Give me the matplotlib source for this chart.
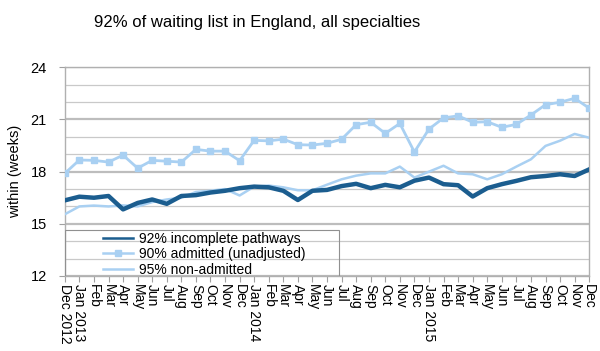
import matplotlib
matplotlib.use('Agg')
import matplotlib.pyplot as plt
from matplotlib.ticker import MultipleLocator
from matplotlib.patches import Rectangle

plt.rcParams['font.family'] = ['Liberation Sans', 'DejaVu Sans']

# month labels, Dec 2012 .. Dec 2015
months = ['Dec 2012', 'Jan 2013', 'Feb', 'Mar', 'Apr', 'May', 'Jun', 'Jul', 'Aug', 'Sep', 'Oct', 'Nov',
          'Dec', 'Jan 2014', 'Feb', 'Mar', 'Apr', 'May', 'Jun', 'Jul', 'Aug', 'Sep', 'Oct', 'Nov',
          'Dec', 'Jan 2015', 'Feb', 'Mar', 'Apr', 'May', 'Jun', 'Jul', 'Aug', 'Sep', 'Oct', 'Nov',
          'Dec']

incomplete = [16.35, 16.56, 16.5, 16.6, 15.83, 16.2, 16.4, 16.15, 16.6, 16.65, 16.8, 16.9,
              17.05, 17.14, 17.1, 16.9, 16.37, 16.9, 16.95, 17.17, 17.3, 17.05, 17.24, 17.1,
              17.48, 17.66, 17.28, 17.22, 16.57, 17.05, 17.28, 17.47, 17.68, 17.75, 17.85, 17.75,
              18.13]

admitted = [17.9, 18.67, 18.65, 18.55, 18.95, 18.2, 18.65, 18.6, 18.55, 19.28, 19.18, 19.18,
            18.63, 19.8, 19.77, 19.87, 19.55, 19.53, 19.63, 19.86, 20.7, 20.84, 20.2, 20.77,
            19.13, 20.45, 21.09, 21.21, 20.84, 20.87, 20.55, 20.72, 21.26, 21.85, 21.99, 22.22,
            21.65]

non_admitted = [15.55, 16.0, 16.05, 16.0, 16.06, 16.0, 16.25, 16.4, 16.5, 16.83, 16.9, 17.0,
                16.63, 17.14, 17.2, 17.1, 16.93, 16.93, 17.25, 17.56, 17.77, 17.9, 17.9, 18.29,
                17.66, 18.0, 18.34, 17.9, 17.85, 17.56, 17.85, 18.29, 18.71, 19.48, 19.78, 20.17,
                19.95]

x = list(range(len(months)))

fig = plt.figure(figsize=(6, 3.51), dpi=100)
ax = fig.add_axes([0.108, 0.2137, 0.874, 0.5945])

ax.plot(x, incomplete, color='#1b5d8f', lw=3.2, label='92% incomplete pathways', zorder=4)
ax.plot(x, admitted, color='#a9d0f2', lw=2.0, marker='s', ms=5, mec='#a9d0f2',
        label='90% admitted (unadjusted)', zorder=3)
ax.plot(x, non_admitted, color='#a9d0f2', lw=1.8, label='95% non-admitted', zorder=3)

ax.set_xlim(0, len(months) - 1)
ax.set_ylim(12, 24)
ax.yaxis.set_major_locator(MultipleLocator(3))
ax.yaxis.set_minor_locator(MultipleLocator(1))
ax.grid(axis='y', which='major', color='#bdbdbd', lw=1.6, zorder=0)
ax.grid(axis='y', which='minor', color='#c9c9c9', lw=0.9, zorder=0)
ax.set_axisbelow(True)

ax.set_xticks(x)
ax.set_xticklabels(months, rotation=270, fontsize=10, va='top', ha='center')
ax.tick_params(axis='x', length=4, color='#a0a0a0', pad=2)
ax.tick_params(axis='y', which='major', length=4, color='#a0a0a0', labelsize=10.5, pad=9)
ax.tick_params(axis='y', which='minor', length=0)

for s in ax.spines.values():
    s.set_color('#b0b0b0')
    s.set_linewidth(1.0)

ax.set_ylabel('within (weeks)', fontsize=10.5, labelpad=6)
fig.text(0.428, 0.935, '92% of waiting list in England, all specialties', ha='center', va='center',
         fontsize=12)

# legend box (transparent, gridlines show through)
ax.add_patch(Rectangle((0, 0), 0.523, 0.22, transform=ax.transAxes, fill=False,
                       edgecolor='#909090', lw=0.8, zorder=5))
leg = ax.legend(loc='upper left', bbox_to_anchor=(0.068, 0.222), fontsize=10, frameon=False,
                handlelength=2.2, borderpad=0.15, labelspacing=0.1, borderaxespad=0,
                handletextpad=0.4)
for h in leg.get_lines():
    h.set_linewidth(1.8)

fig.savefig('out.png', dpi=100)
